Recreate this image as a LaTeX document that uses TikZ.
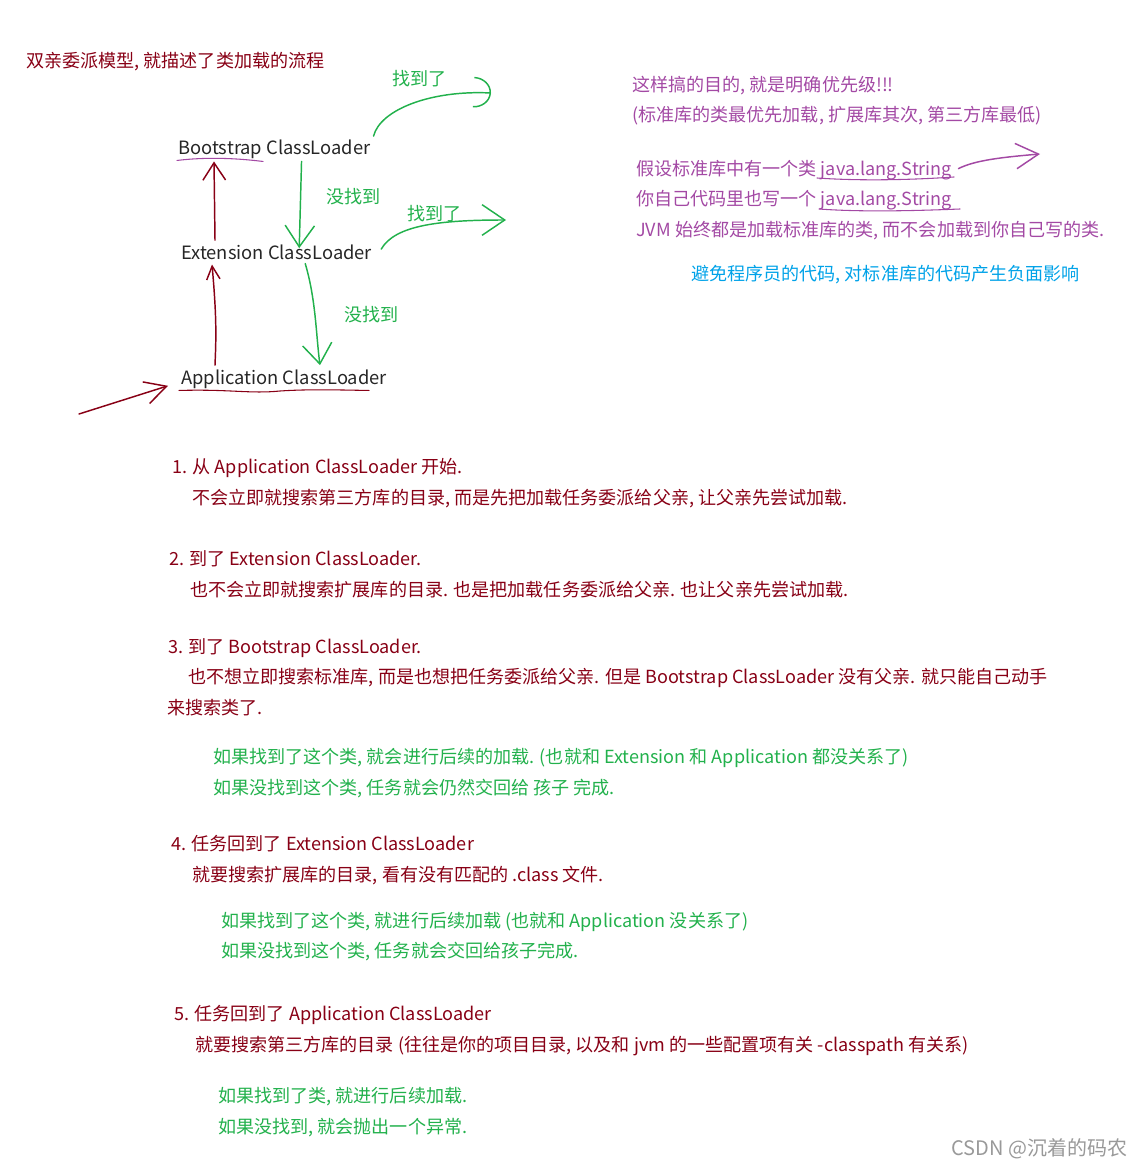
\documentclass[tikz,border=0pt]{standalone}
\usepackage{fontspec}
\setmainfont{Noto Sans CJK SC}
\usetikzlibrary{arrows.meta}
\definecolor{darkred}{HTML}{880015}
\definecolor{handgreen}{HTML}{22B14C}
\definecolor{handpurple}{HTML}{A349A4}
\definecolor{handblue}{HTML}{00A2E8}
\tikzset{
  txt/.style={anchor=base west,inner sep=0pt,yshift=-0.75pt,font=\fontsize{13.55pt}{15pt}\selectfont},
  redtxt/.style={txt,text=darkred},
  greentxt/.style={txt,text=handgreen},
  purpletxt/.style={txt,text=handpurple},
  bluetxt/.style={txt,text=handblue},
  loader/.style={txt,text=black!85,font=\fontsize{13.75pt}{15pt}\selectfont},
  redpen/.style={draw=darkred,line width=1.1pt,line cap=round},
  greenpen/.style={draw=handgreen,line width=1.1pt,line cap=round},
  purplepen/.style={draw=handpurple,line width=1.1pt,line cap=round},
}
\begin{document}
\begin{tikzpicture}[x=0.75pt,y=-0.75pt]
\useasboundingbox (0,0) rectangle (1138,1166);

\node[redtxt] (title) at (26,67) {双亲委派模型, 就描述了类加载的流程};

\node[loader] (bootstrap) at (178,154) {Bootstrap ClassLoader};
\node[loader] (extension) at (181,258) {Extension ClassLoader};
\node[loader] (application) at (181,383) {Application ClassLoader};

\node[greentxt] (found1) at (392,85) {找到了};
\node[greentxt] (miss1) at (326,203) {没找到};
\node[greentxt] (found2) at (407,220) {找到了};
\node[greentxt] (miss2) at (344,320) {没找到};

\coordinate (foundend1) at (491,93);
\coordinate (foundend2) at (506,220);
\coordinate (entry) at (79,414);

\draw[greenpen,-{Arc Barb[length=13pt,width=23pt]}] ([shift={(3,-4)}]bootstrap.north east) .. controls (380,110) and (430,90) .. (foundend1);
\draw[greenpen,-{Straight Barb[length=16pt,width=22pt]}] ([shift={(-69,2)}]bootstrap.south east) -- ([shift={(-73,4)}]extension.north east);
\draw[greenpen,-{Straight Barb[length=17pt,width=23pt]}] ([shift={(9,5)}]extension.north east) .. controls (395,225) and (440,220) .. (foundend2);
\draw[greenpen,-{Straight Barb[length=15pt,width=22pt]}] ([shift={(-67,4)}]extension.south east) .. controls (316,300) and (316,335) .. ([shift={(139,-4)}]application.north west);
\draw[redpen,-{Straight Barb[length=13pt,width=17pt]}] ([shift={(34,-4)}]extension.north west) -- ([shift={(36,2)}]bootstrap.south west);
\draw[redpen,-{Straight Barb[length=10pt,width=10pt]}] ([shift={(34,-4)}]application.north west) .. controls (216,340) and (217,320) .. ([shift={(31,5)}]extension.south west);
\draw[redpen,-{Straight Barb[length=16pt,width=17pt]}] (entry) -- ([shift={(-13,7)}]application.west);
\draw[purplepen,line width=.8pt] ([shift={(-1,1)}]bootstrap.south west) .. controls (205,157) and (235,158) .. ([shift={(85,2)}]bootstrap.south west);
\draw[redpen,line width=.8pt] ([shift={(-2,2)}]application.south west) .. controls (230,389) and (250,394) .. (280,391) .. controls (310,389) and (340,390) .. ([shift={(188,2)}]application.south west);

\node[purpletxt] (goal1) at (632,91) {这样搞的目的, 就是明确优先级!!!};
\node[purpletxt] (goal2) at (632,121) {(标准库的类最优先加载, 扩展库其次, 第三方库最低)};
\node[purpletxt] (goal3) at (636,175) {假设标准库中有一个类 java.lang.String};
\node[purpletxt] (goal4) at (636,205) {你自己代码里也写一个 java.lang.String};
\node[purpletxt] (goal5) at (636,236) {JVM 始终都是加载标准库的类, 而不会加载到你自己写的类.};
\node[bluetxt] (goal6) at (691,279) {避免程序员的代码, 对标准库的代码产生负面影响};

\coordinate (stringend) at (1040,154);
\draw[purplepen,-{Straight Barb[length=17pt,width=19pt]}] ([shift={(6,-2)}]goal3.east) .. controls (975,160) and (1005,157) .. (stringend);
\draw[purplepen,line width=.8pt] (817,178) .. controls (860,181) and (910,180) .. (954,177);
\draw[purplepen,line width=.8pt] (819,209) .. controls (860,212) and (910,211) .. (960,209);

\node[redtxt] (a1) at (172,472) {1. 从 Application ClassLoader 开始.};
\node[redtxt] (a2) at (192,503) {不会立即就搜索第三方库的目录, 而是先把加载任务委派给父亲, 让父亲先尝试加载.};
\node[redtxt] (b1) at (169,564) {2. 到了 Extension ClassLoader.};
\node[redtxt] (b2) at (190,595) {也不会立即就搜索扩展库的目录. 也是把加载任务委派给父亲. 也让父亲先尝试加载.};
\node[redtxt] (c1) at (168,652) {3. 到了 Bootstrap ClassLoader.};
\node[redtxt] (c2) at (188,682) {也不想立即搜索标准库, 而是也想把任务委派给父亲. 但是 Bootstrap ClassLoader 没有父亲. 就只能自己动手};
\node[redtxt] (c3) at (167,713) {来搜索类了.};
\node[greentxt] (c4) at (213,762) {如果找到了这个类, 就会进行后续的加载. (也就和 Extension 和 Application 都没关系了)};
\node[greentxt] (c5) at (213,793) {如果没找到这个类, 任务就会仍然交回给 孩子 完成.};
\node[redtxt] (d1) at (171,849) {4. 任务回到了 Extension ClassLoader};
\node[redtxt] (d2) at (192,880) {就要搜索扩展库的目录, 看有没有匹配的 .class 文件.};
\node[greentxt] (d3) at (221,926) {如果找到了这个类, 就进行后续加载 (也就和 Application 没关系了)};
\node[greentxt] (d4) at (221,956) {如果没找到这个类, 任务就会交回给孩子完成.};
\node[redtxt] (e1) at (174,1019) {5. 任务回到了 Application ClassLoader};
\node[redtxt] (e2) at (195,1050) {就要搜索第三方库的目录 (往往是你的项目目录, 以及和 jvm 的一些配置项有关 -classpath 有关系)};
\node[greentxt] (e3) at (218,1101) {如果找到了类, 就进行后续加载.};
\node[greentxt] (e4) at (218,1132) {如果没找到, 就会抛出一个异常.};

\node[txt,text=black!40,font=\fontsize{15pt}{16pt}\selectfont] (mark) at (951,1154) {CSDN @沉着的码农};

\end{tikzpicture}
\end{document}
